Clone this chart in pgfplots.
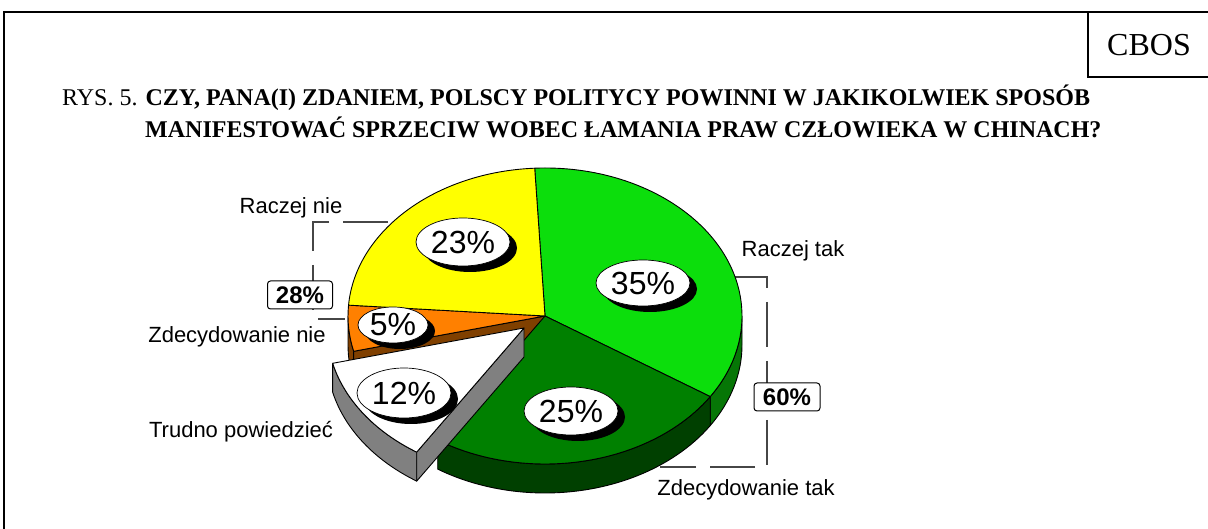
\documentclass[border=0pt]{standalone}
\usepackage{pgfplots}
\pgfplotsset{compat=1.18}
\usepackage{pgfplotstable}
\usepackage{fontspec}
\setmainfont{Liberation Serif}
\newfontfamily\arial{Liberation Sans}
\usetikzlibrary{calc}

\definecolor{lgreen}{RGB}{12,222,12}
\definecolor{lgreenside}{RGB}{6,118,6}
\definecolor{dgreen}{RGB}{0,128,0}
\definecolor{dgreenside}{RGB}{0,64,0}
\definecolor{orng}{RGB}{255,128,0}
\definecolor{orngside}{RGB}{128,64,0}
\definecolor{yel}{RGB}{255,255,0}
\definecolor{wside}{RGB}{128,128,128}
\definecolor{brk}{RGB}{70,70,70}

\pgfplotstableread{
label value
RaczejTak 35
ZdecydowanieTak 25
TrudnoPowiedziec 12
ZdecydowanieNie 5
RaczejNie 23
}\piedata

\newcommand\pietop[4]{%
 \filldraw[fill=#4, draw=black, line width=0.9bp, line join=round, x radius=197bp, y radius=148bp]
 (#1) -- ++(#2:197bp and 148bp) arc[start angle=#2, end angle=#3] -- cycle;}
\newcommand\pieside[4]{%
 \filldraw[fill=#4, draw=black, line width=0.9bp, line join=round, x radius=197bp, y radius=148bp]
 ($(#1)+(#2:197bp and 148bp)$) arc[start angle=#2, end angle=#3] -- ++(0,-29bp) arc[start angle=#3, end angle=#2] -- cycle;}
\newcommand\pieface[3]{%
 \filldraw[fill=#3, draw=black, line width=0.9bp, line join=round]
 (#1) -- ++(#2:197bp and 148bp) -- ++(0,-29bp) -- ($(#1)+(0,-29bp)$) -- cycle;}
\newcommand\pct[5]{%
 \fill[black] ($(axis cs:#1,#2)+(7bp,-6bp)$) ellipse[x radius=#3bp, y radius=#4bp];
 \filldraw[fill=white, draw=black, line width=0.7bp] (axis cs:#1,#2) ellipse[x radius=#3bp, y radius=#4bp];
 \node[inner sep=0pt, font=\arial\fontsize{32bp}{36bp}\selectfont] at (axis cs:#1,#2) {#5};}

\begin{document}
\begin{tikzpicture}
\pgfplotstablegetelem{0}{value}\of\piedata \let\vA\pgfplotsretval
\pgfplotstablegetelem{1}{value}\of\piedata \let\vB\pgfplotsretval
\pgfplotstablegetelem{2}{value}\of\piedata \let\vC\pgfplotsretval
\pgfplotstablegetelem{3}{value}\of\piedata \let\vD\pgfplotsretval
\pgfplotstablegetelem{4}{value}\of\piedata \let\vE\pgfplotsretval
\pgfmathsetmacro\aA{93}
\pgfmathsetmacro\aB{\aA-3.6*\vA}
\pgfmathsetmacro\aC{\aB-3.6*\vB}
\pgfmathsetmacro\aD{\aC-3.6*\vC}
\pgfmathsetmacro\aE{\aD-3.6*\vD}
\pgfmathsetmacro\aF{\aE-3.6*\vE}
\begin{axis}[
  width=1208bp, height=529bp, scale only axis,
  xmin=0, xmax=1208, ymin=0, ymax=529,
  hide axis, clip=false]
% frame
\draw[line width=2bp] (axis cs:4,0) -- (axis cs:4,517) -- (axis cs:1208,517);
\draw[line width=1.6bp] (axis cs:1088,517) -- (axis cs:1088,452) -- (axis cs:1208,452);
\node[font=\fontsize{32bp}{36bp}\selectfont, inner sep=0pt] at (axis cs:1149,484) {CBOS};
% title
\node[anchor=base west, inner sep=0pt, font=\fontsize{24bp}{28bp}\selectfont] at (axis cs:62,423.5)
  {RYS. 5. \textbf{CZY, PANA(I) ZDANIEM, POLSCY POLITYCY POWINNI W JAKIKOLWIEK SPOSÓB}};
\node[anchor=base west, inner sep=0pt, font=\fontsize{24bp}{28bp}\selectfont] at (axis cs:145,391)
  {\textbf{MANIFESTOWAĆ SPRZECIW WOBEC ŁAMANIA PRAW CZŁOWIEKA W CHINACH?}};
% brackets
\draw[brk, line width=1.2bp, dash pattern=on 45bp off 14bp] (axis cs:388,307) -- (axis cs:313,307) -- (axis cs:313,210) -- (axis cs:345,210);
\draw[brk, line width=1.2bp, dash pattern=on 45bp off 14bp] (axis cs:733,252) -- (axis cs:767,252) -- (axis cs:767,62) -- (axis cs:660,62);
% pie sides (non exploded)
\pieside{axis cs:545,213}{\aB}{0}{lgreenside}
\pieside{axis cs:545,213}{\aB}{\aC}{dgreenside}
\pieside{axis cs:545,213}{-180}{\aD}{orngside}
\pieface{axis cs:545,213}{\aD}{orngside}
% tops
\pietop{axis cs:545,213}{\aA}{\aB}{lgreen}
\pietop{axis cs:545,213}{\aB}{\aC}{dgreen}
\pietop{axis cs:545,213}{\aD}{\aE}{orng}
\pietop{axis cs:545,213}{\aE}{\aF}{yel}
% exploded slice
\pieside{axis cs:524,201}{\aD}{\aC}{wside}
\pieface{axis cs:524,201}{\aC}{wside}
\pietop{axis cs:524,201}{\aC}{\aD}{white}
% percentage labels
\pct{463}{287}{47}{24}{23\%}
\pct{643}{246}{47}{23}{35\%}
\pct{393}{204}{35}{18}{5\%}
\pct{404}{136}{47}{25}{12\%}
\pct{571}{118}{47}{24}{25\%}
% category labels
\begin{scope}[every node/.style={inner sep=0pt, font=\arial\fontsize{22bp}{26bp}\selectfont}]
\node at (axis cs:291,321) {Raczej nie};
\node at (axis cs:237,192) {Zdecydowanie nie};
\node at (axis cs:241,97) {Trudno powiedzieć};
\node at (axis cs:793,278) {Raczej tak};
\node at (axis cs:746,39) {Zdecydowanie tak};
\end{scope}
% sum boxes
\node[draw=black, fill=white, line width=1bp, rounded corners=3bp, minimum width=65bp, minimum height=28bp, inner sep=0pt, font=\arial\bfseries\fontsize{24bp}{28bp}\selectfont] at (axis cs:300,234) {28\%};
\node[draw=black, fill=white, line width=1bp, rounded corners=3bp, minimum width=66bp, minimum height=28bp, inner sep=0pt, font=\arial\bfseries\fontsize{24bp}{28bp}\selectfont] at (axis cs:787,132) {60\%};
\end{axis}
\pgfresetboundingbox
\useasboundingbox (0,0) rectangle (1208bp,529bp);
\end{tikzpicture}
\end{document}
